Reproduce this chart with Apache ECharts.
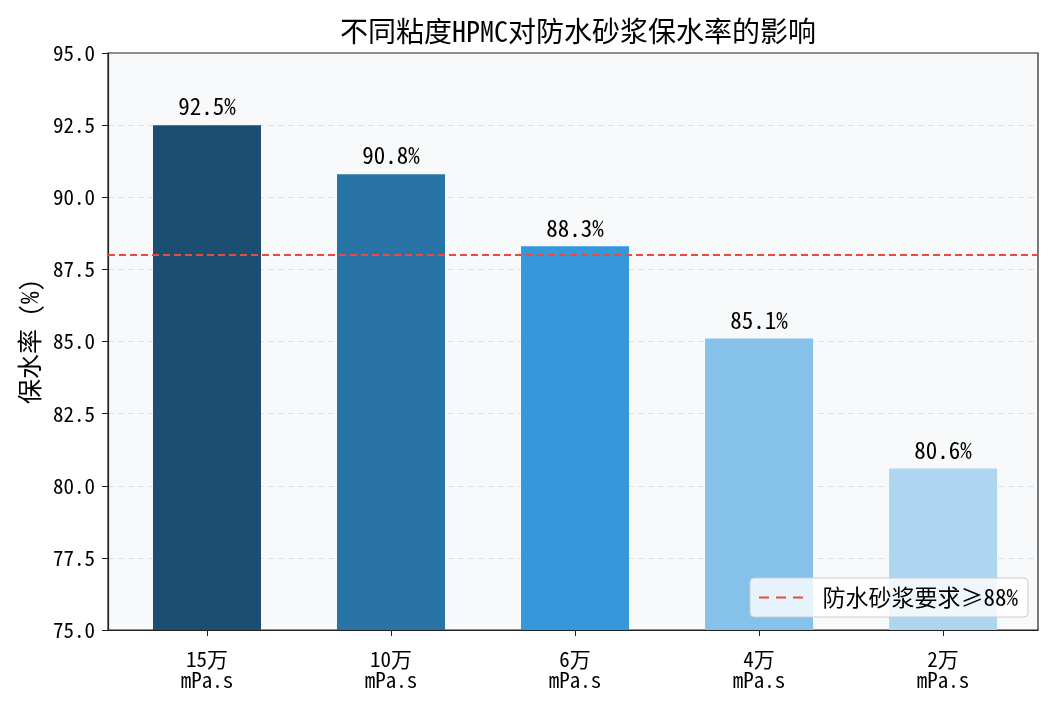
<!DOCTYPE html>
<html>
<head>
<meta charset="utf-8">
<script src="https://cdn.jsdelivr.net/npm/echarts@6/dist/echarts.min.js"></script>
<style>
    html, body {margin: 0; padding: 0; background: #fff;}
    #chart {width: 1054px; height: 707px;}
</style>
</head>
<body>
<div id="chart"></div>
<script>
// viscosity grades and water retention (%)
const categories = ['15万\nmPa.s', '10万\nmPa.s', '6万\nmPa.s', '4万\nmPa.s', '2万\nmPa.s'];
const retention = [92.5, 90.8, 88.3, 85.1, 80.6];
const barColors = ['#1b4f72', '#2874a6', '#3498db', '#85c1e9', '#aed6f1'];
const requirement = 88;
const requirementName = '防水砂浆要求≥88%';

// SimHei-like: half width latin, full width CJK
const FONT = '"Noto Sans Mono CJK SC", "DejaVu Sans Mono", "Noto Sans CJK SC", monospace';
const xMin = -0.538, xMax = 4.516;
const tickIdx = categories.map((c, i) => i);

const chart = echarts.init(document.getElementById('chart'));

chart.setOption({
    animation: false,
    textStyle: {fontFamily: FONT},
    title: {
        text: '不同粘度HPMC对防水砂浆保水率的影响',
        left: 573,
        top: 12,
        textAlign: 'center',
        textStyle: {fontSize: 28, fontWeight: 'normal', color: '#000', fontFamily: FONT}
    },
    grid: {left: 108, right: 16, top: 53, bottom: 77, show: true, backgroundColor: '#f8f9fa', borderColor: '#222', borderWidth: 1.2},
    legend: {
        right: 26,
        bottom: 90,
        data: [requirementName],
        icon: 'path://M0,0h10v2h-10z M17,0h10v2h-10z M34,0h10v2h-10z',
        itemWidth: 45,
        itemHeight: 2,
        padding: [8, 10, 8, 9],
        backgroundColor: 'rgba(255,255,255,0.8)',
        borderColor: '#ccc',
        borderWidth: 1,
        borderRadius: 4,
        textStyle: {fontSize: 23, color: '#000', fontFamily: FONT, padding: [0, 0, 0, 14]}
    },
    xAxis: {
        type: 'value',
        min: xMin,
        max: xMax,
        splitLine: {show: false},
        axisLine: {show: true, onZero: false, lineStyle: {color: '#222', width: 1.2}},
        axisTick: {show: true, length: 6, lineStyle: {color: '#222'}, customValues: tickIdx},
        axisLabel: {
            customValues: tickIdx,
            formatter: v => categories[Math.round(v)],
            fontSize: 21,
            lineHeight: 21,
            color: '#000',
            margin: 19,
            fontFamily: FONT
        }
    },
    yAxis: {
        type: 'value',
        min: 75,
        max: 95,
        interval: 2.5,
        name: '保水率 (%)',
        nameLocation: 'middle',
        nameGap: 66,
        nameTextStyle: {fontSize: 25, color: '#000', fontFamily: FONT},
        axisLine: {show: true, onZero: false, lineStyle: {color: '#222', width: 1.2}},
        axisTick: {show: true, length: 6, lineStyle: {color: '#222'}},
        axisLabel: {
            fontSize: 21,
            color: '#000',
            margin: 13,
            fontFamily: FONT,
            formatter: v => v.toFixed(1)
        },
        splitLine: {show: true, showMaxLine: false, showMinLine: false, lineStyle: {color: '#dde3e8', type: [6, 4], width: 1}}
    },
    series: [
        {
            type: 'bar',
            barWidth: 108,
            data: retention.map((v, i) => ({value: [i, v], itemStyle: {color: barColors[i]}})),
            label: {
                show: true,
                position: 'top',
                distance: 7,
                fontSize: 23,
                color: '#000',
                fontFamily: FONT,
                formatter: p => p.value[1].toFixed(1) + '%'
            }
        },
        {
            name: requirementName,
            type: 'line',
            symbol: 'none',
            color: '#e74c3c',
            lineStyle: {color: '#e74c3c', width: 2, type: [7, 4]},
            data: [[xMin, requirement], [xMax, requirement]],
            z: 5
        }
    ]
});
</script>
</body>
</html>
